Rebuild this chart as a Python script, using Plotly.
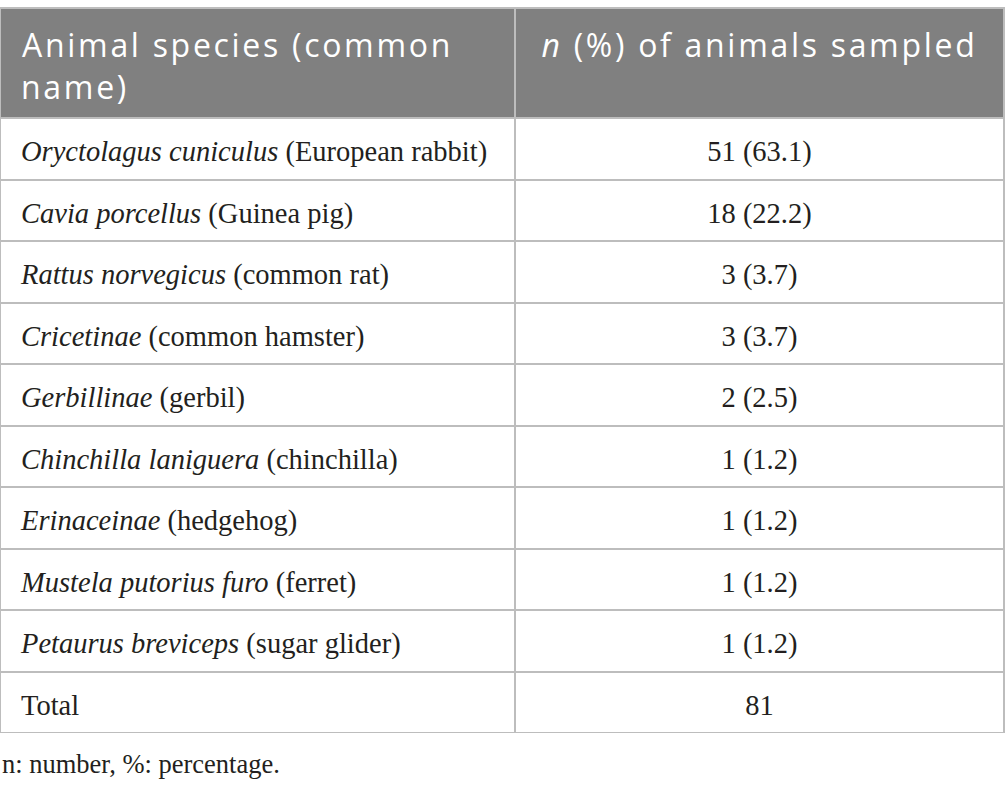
import plotly.graph_objects as go

header_labels = ["Animal species (common", "name)", "<i>n</i> (%) of animals sampled"]
species_latin = ["Oryctolagus cuniculus", "Cavia porcellus", "Rattus norvegicus", "Cricetinae",
                 "Gerbillinae", "Chinchilla laniguera", "Erinaceinae", "Mustela putorius furo",
                 "Petaurus breviceps"]
species_common = ["European rabbit", "Guinea pig", "common rat", "common hamster", "gerbil",
                  "chinchilla", "hedgehog", "ferret", "sugar glider"]
counts = [51, 18, 3, 3, 2, 1, 1, 1, 1]
percents = [63.1, 22.2, 3.7, 3.7, 2.5, 1.2, 1.2, 1.2, 1.2]
total_label = "Total"
total_count = 81
footnote = "n: number, %: percentage."

NB = "\u00a0"
# spacer glyphs: a tall non-breaking space pushes the first line down inside the cell
B_SP = '<span style="font-size:39px">' + NB + '</span><span style="font-size:13px">' + NB + '</span>'
B_SPC = '<span style="font-size:39px">' + NB + '</span>'
H_SP = '<span style="font-size:38px">' + NB + '</span>'
H_TXT = '<span style="letter-spacing:2.7px">{}</span>'

col1 = [B_SP + f"<i>{l}</i> ({c})<br>" for l, c in zip(species_latin, species_common)]
col1.append(B_SP + total_label + "<br>")
col2 = [B_SPC + f"{n} ({p:.1f})" + B_SPC + "<br>" for n, p in zip(counts, percents)]
col2.append(B_SPC + str(total_count) + B_SPC + "<br>")

head = [H_SP + '<span style="font-size:16px">' + NB + '</span>' + H_TXT.format(header_labels[0])
        + "<br>" + NB + '<span style="font-size:18px">' + NB + '</span>' + H_TXT.format(header_labels[1]),
        H_SP + H_TXT.format(header_labels[2]) + H_SP + "<br>"]

W, H = 1005, 789
fig = go.Figure(go.Table(
    columnwidth=[515, 489],
    header=dict(
        values=head,
        fill_color="#808080",
        line=dict(color="#bdbdbd", width=2),
        align=["left", "center"],
        font=dict(family="Open Sans", size=32, color="white"),
        height=110,
    ),
    cells=dict(
        values=[col1, col2],
        fill_color="white",
        line=dict(color="#bdbdbd", width=2),
        align=["left", "center"],
        font=dict(family="Liberation Serif", size=28.5, color="#231f20"),
        height=61.5,
    ),
    domain=dict(x=[0, 1], y=[0, 1]),
))
fig.add_annotation(text=footnote, xref="paper", yref="paper", x=0, y=-0.019,
                   xanchor="left", yanchor="top", showarrow=False,
                   font=dict(family="Liberation Serif", size=26.5, color="#231f20"))
fig.update_layout(width=W, height=H, margin=dict(l=0, r=1, t=8, b=56),
                  paper_bgcolor="white", plot_bgcolor="white")
fig.write_html("out.html", config={"displayModeBar": False},
               post_script="document.body.style.margin='0';")
